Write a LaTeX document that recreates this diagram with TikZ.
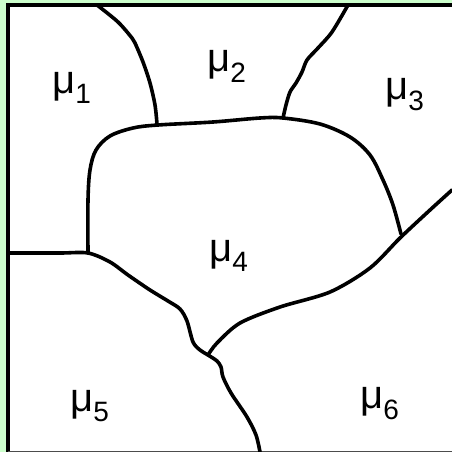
\documentclass[tikz,border=0pt]{standalone}
\usepackage{fontspec}
\setmainfont{Liberation Sans}
\definecolor{framegreen}{HTML}{CCFFCC}
\begin{document}
\begin{tikzpicture}[x=1pt,y=-1pt,
  border/.style={line width=3.6pt,line cap=round,line join=round},
  region/.style={font=\fontsize{40}{46}\selectfont,inner sep=0pt}]
\useasboundingbox (0,0) rectangle (452,452);
% frame
\fill[framegreen] (0,0) rectangle (452,452);
\fill[white] (8,5.5) rectangle (452,452);
\draw[line width=4pt] (8,452) -- (8,5.5) -- (452,5.5);
\draw[line width=1pt,black!70] (8,451.2) -- (452,451.2);

% junction points
\coordinate (j12) at (157,124);
\coordinate (j23) at (283,118);
\coordinate (j45) at (88,253);
\coordinate (j456) at (208,355);
\coordinate (j346) at (401,234);

% border between regions 1 and 2
\draw[border] plot[smooth,tension=0.5] coordinates
  {(97,5) (118,22) (132,38) (135,43) (143,62) (150,83) (155,105) (157,124)};
% border between regions 2 and 3
\draw[border] plot[smooth,tension=0.5] coordinates
  {(348,5) (332,32) (318,48) (307,60) (302,72) (296,83) (290,92) (286,105) (283,118)};
% region 4, upper outline
\draw[border] plot[smooth,tension=0.55] coordinates
  {(88,253) (88,200) (90,170) (96,150) (110,136) (133,128) (158,125) (213,122) (260,118) (283,118) (320,124) (350,137) (370,155) (383,180) (393,205) (401,234)};
% region 5, upper outline down to the bottom edge
\draw[border] plot[smooth,tension=0.5] coordinates
  {(10,253) (60,253) (88,253) (110,262) (128,275) (150,290) (168,301) (180,309) (187,321) (193,342) (200,350) (208,355) (217,361) (221,367) (223,377) (231,393) (247,417) (256,435) (260,452)};
% border between regions 4 and 6, up to the right edge
\draw[border] plot[smooth,tension=0.5] coordinates
  {(208,355) (217,343) (240,323) (280,307) (330,292) (370,268) (400,238) (430,210) (452,190)};

% labels
\node[region] (m1) at (72,88) {μ\textsubscript{1}};
\node[region] (m2) at (227,66) {μ\textsubscript{2}};
\node[region] (m3) at (405,95) {μ\textsubscript{3}};
\node[region] (m4) at (229,256) {μ\textsubscript{4}};
\node[region] (m5) at (90,406) {μ\textsubscript{5}};
\node[region] (m6) at (380,404) {μ\textsubscript{6}};
\end{tikzpicture}
\end{document}
